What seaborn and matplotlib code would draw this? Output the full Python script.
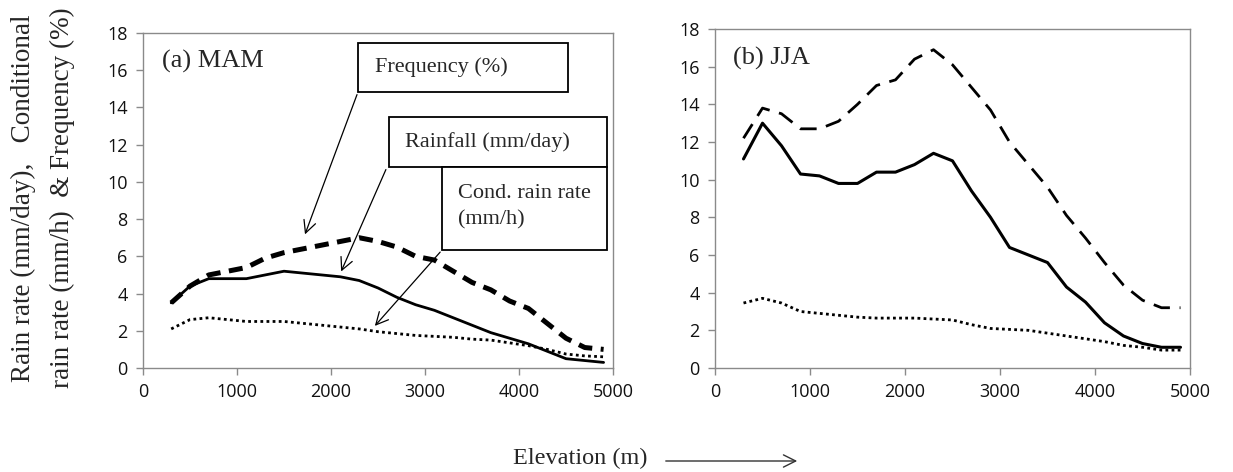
import matplotlib
matplotlib.use("Agg")
import matplotlib.pyplot as plt
import seaborn as sns
import pandas as pd
from matplotlib.patches import Rectangle

# ---------------- data ----------------
elevation = [300, 500, 700, 900, 1100, 1300, 1500, 1700, 1900, 2100, 2300, 2500,
             2700, 2900, 3100, 3300, 3500, 3700, 3900, 4100, 4300, 4500, 4700, 4900]

mam_rainfall = [3.5, 4.4, 4.8, 4.8, 4.8, 5.0, 5.2, 5.1, 5.0, 4.9, 4.7, 4.3,
                3.8, 3.4, 3.1, 2.7, 2.3, 1.9, 1.6, 1.3, 0.9, 0.5, 0.4, 0.3]
mam_frequency = [3.5, 4.4, 5.0, 5.2, 5.4, 5.9, 6.2, 6.4, 6.6, 6.8, 7.0, 6.8,
                 6.5, 6.0, 5.8, 5.2, 4.6, 4.2, 3.6, 3.2, 2.4, 1.6, 1.1, 1.0]
mam_condrate = [2.1, 2.6, 2.7, 2.6, 2.5, 2.5, 2.5, 2.4, 2.3, 2.2, 2.1, 1.95,
                1.85, 1.75, 1.7, 1.65, 1.55, 1.5, 1.35, 1.2, 1.0, 0.75, 0.65, 0.6]

jja_rainfall = [11.1, 13.0, 11.8, 10.3, 10.2, 9.8, 9.8, 10.4, 10.4, 10.8, 11.4, 11.0,
                9.4, 8.0, 6.4, 6.0, 5.6, 4.3, 3.5, 2.4, 1.7, 1.3, 1.1, 1.1]
jja_frequency = [12.2, 13.8, 13.5, 12.7, 12.7, 13.1, 14.0, 15.0, 15.3, 16.4, 16.9, 16.1,
                 14.9, 13.7, 12.0, 10.8, 9.6, 8.1, 6.9, 5.6, 4.4, 3.6, 3.2, 3.2]
jja_condrate = [3.45, 3.7, 3.45, 3.0, 2.9, 2.8, 2.7, 2.65, 2.65, 2.65, 2.6, 2.55,
                2.3, 2.1, 2.05, 2.0, 1.85, 1.7, 1.55, 1.4, 1.2, 1.1, 0.95, 0.95]

x_ticks = [0, 1000, 2000, 3000, 4000, 5000]
y_ticks = [0, 2, 4, 6, 8, 10, 12, 14, 16, 18]
panel_labels = ["(a) MAM", "(b) JJA"]

# ---------------- style ----------------
sns.set_style("white")
plt.rcParams['font.family'] = ['Liberation Serif', 'DejaVu Serif']

W, H = 1233, 472
fig = plt.figure(figsize=(W / 100, H / 100), dpi=100)


def axrect(l, t, r, b):
    return [l / W, 1 - b / H, (r - l) / W, (b - t) / H]


ax1 = fig.add_axes(axrect(143, 33, 613, 368))
ax2 = fig.add_axes(axrect(715, 29, 1190, 368))

# ---------------- lines ----------------
sns.lineplot(x=elevation, y=mam_frequency, ax=ax1, color='black', lw=3.6,
             linestyle=(0, (2.8, 1.7)), zorder=3)
sns.lineplot(x=elevation, y=mam_rainfall, ax=ax1, color='black', lw=2.0, zorder=3)
sns.lineplot(x=elevation, y=mam_condrate, ax=ax1, color='black', lw=2.0,
             linestyle=(0, (1, 1.2)), zorder=3)

sns.lineplot(x=elevation, y=jja_frequency, ax=ax2, color='black', lw=2.0,
             linestyle=(0, (6, 3.5)), zorder=3)
sns.lineplot(x=elevation, y=jja_rainfall, ax=ax2, color='black', lw=2.2, zorder=3)
sns.lineplot(x=elevation, y=jja_condrate, ax=ax2, color='black', lw=2.0,
             linestyle=(0, (1, 1.2)), zorder=3)

spine_col = '#8a8a8a'
for ax in (ax1, ax2):
    ax.set_xlim(0, 5000)
    ax.set_ylim(0, 18)
    ax.set_xticks(x_ticks)
    ax.set_yticks(y_ticks)
    ax.set_xlabel("")
    ax.set_ylabel("")
    for s in ax.spines.values():
        s.set_color(spine_col)
        s.set_linewidth(1.0)
    ax.tick_params(axis='both', direction='out', length=5, width=1, color=spine_col,
                   bottom=True, left=True, labelsize=13, pad=6, labelcolor='#111111')
    for t in ax.get_xticklabels() + ax.get_yticklabels():
        t.set_fontfamily('Open Sans')

# panel labels
ax1.text(200, 16.45, panel_labels[0], fontsize=19, va='center', ha='left')
ax2.text(190, 16.45, panel_labels[1], fontsize=19, va='center', ha='left')

# ---------------- annotation boxes (left panel) ----------------
boxes = [
    # (x0, y0, x1, y1) in data coords
    (2287, 14.83, 4521, 17.46),
    (2617, 10.80, 4936, 13.49),
    (3181, 6.34, 4936, 10.80),
]
for (x0, y0, x1, y1) in boxes:
    ax1.add_patch(Rectangle((x0, y0), x1 - x0, y1 - y0, facecolor='white',
                            edgecolor='black', lw=1.3, zorder=5))

box_fs = 16
ax1.text(2470, 16.15, "Frequency (%)", fontsize=box_fs, va='center', ha='left', zorder=6)
ax1.text(2790, 12.15, "Rainfall (mm/day)", fontsize=box_fs, va='center', ha='left', zorder=6)
ax1.text(3350, 9.35, "Cond. rain rate", fontsize=box_fs, va='center', ha='left', zorder=6)
ax1.text(3350, 7.95, "(mm/h)", fontsize=box_fs, va='center', ha='left', zorder=6)

arrow_kw = dict(arrowstyle='->', lw=0.9, color='black', mutation_scale=22)
ax1.annotate("", xy=(1713, 7.04), xytext=(2287, 14.83), arrowprops=arrow_kw, zorder=7)
ax1.annotate("", xy=(2096, 5.05), xytext=(2596, 10.8), arrowprops=arrow_kw, zorder=7)
ax1.annotate("", xy=(2447, 2.15), xytext=(3181, 6.34), arrowprops=arrow_kw, zorder=7)

# ---------------- axis titles ----------------
fig.text(23 / W, 1 - 198 / H, "Rain rate (mm/day),   Conditional", rotation=90,
         fontsize=19.5, ha='center', va='center')
fig.text(62 / W, 1 - 198 / H, "rain rate (mm/h)  & Frequency (%)", rotation=90,
         fontsize=19.5, ha='center', va='center')

fig.text(580 / W, 1 - 458 / H, "Elevation (m)", fontsize=17.5, ha='center', va='center')
fig.add_artist(matplotlib.patches.FancyArrowPatch(
    (663 / W, 1 - 461 / H), (800 / W, 1 - 461 / H), transform=fig.transFigure,
    arrowstyle='->', mutation_scale=22, lw=1.0, color='#333333'))

fig.savefig("out.png", dpi=100)
